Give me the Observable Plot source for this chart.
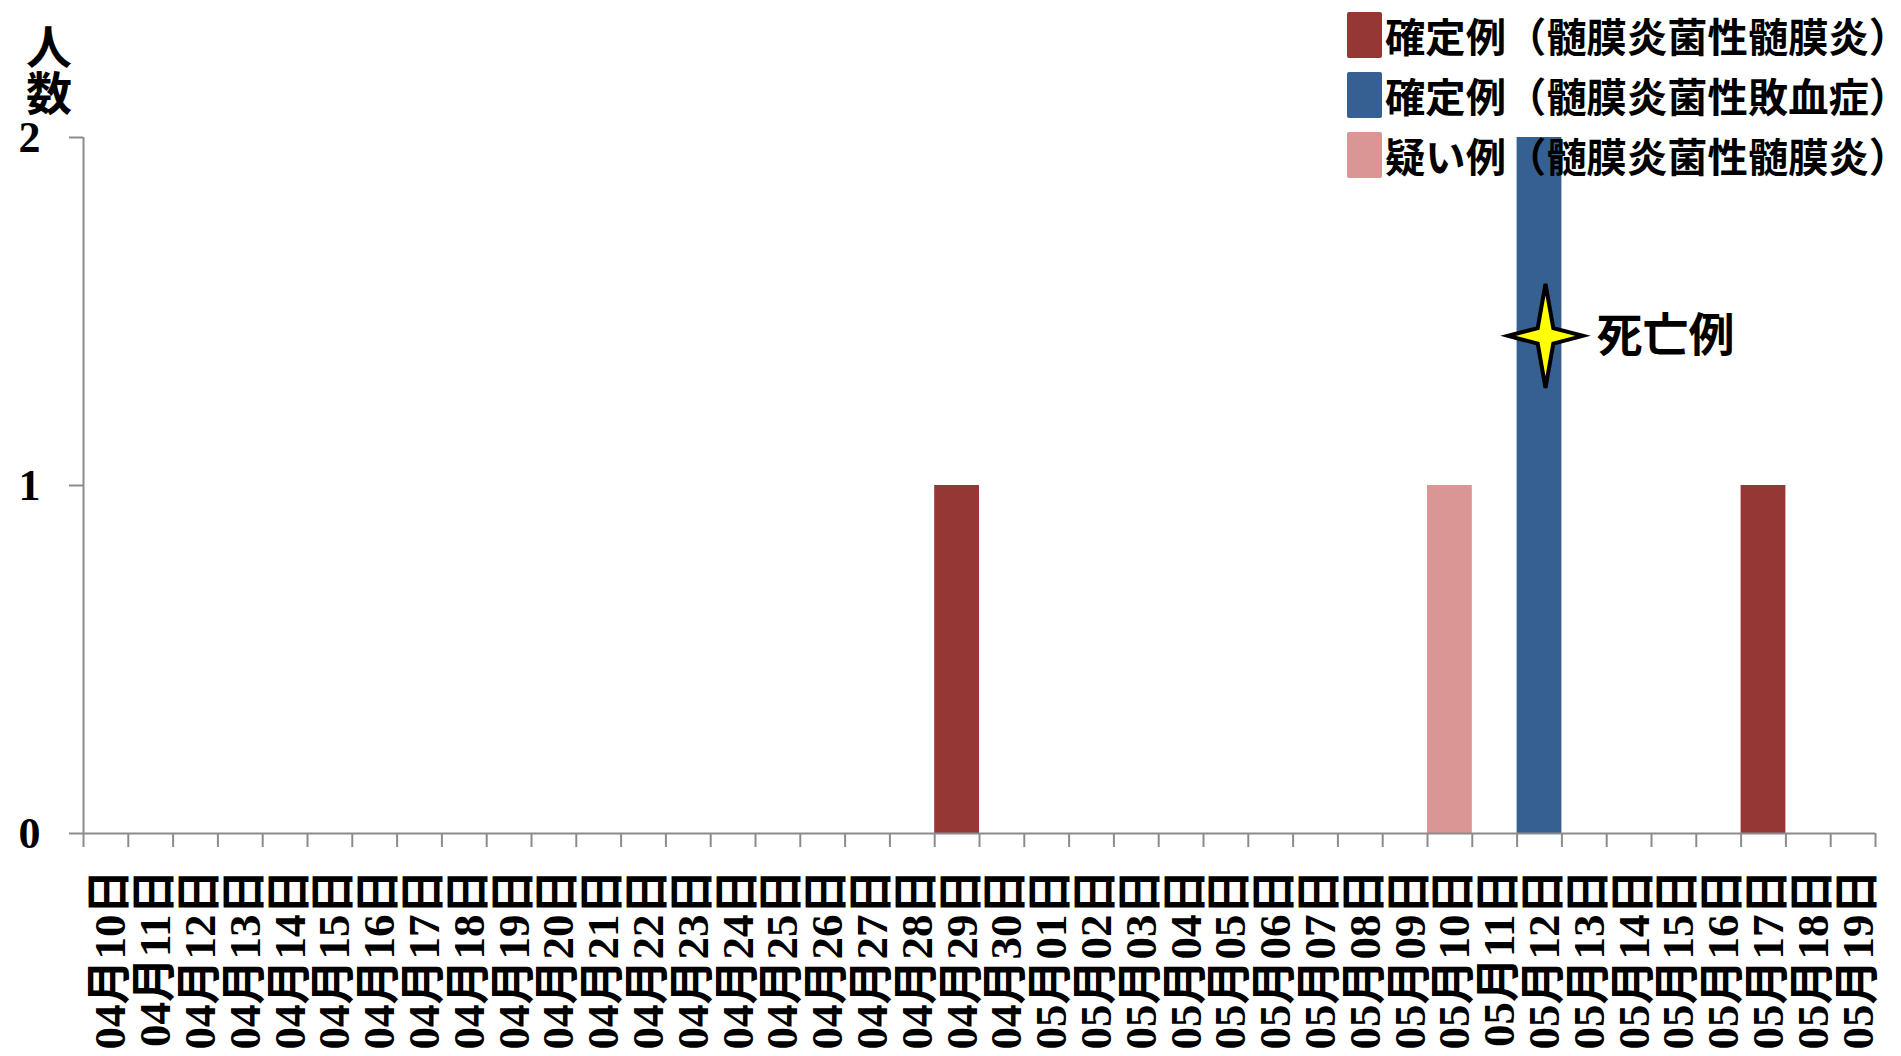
<!DOCTYPE html>
<html>
<head>
<meta charset="utf-8">
<script src="https://cdn.jsdelivr.net/npm/d3@7"></script>
<script src="https://cdn.jsdelivr.net/npm/@observablehq/plot@0.6"></script>
<style>
  html, body { margin: 0; padding: 0; background: #fff; }
  #wrap { position: relative; width: 1901px; height: 1056px; overflow: hidden; }
  #ylabel { position: absolute; left: 26px; top: 24px; writing-mode: vertical-rl; font-family: "Noto Sans CJK JP", sans-serif; font-weight: 700; font-size: 46px; line-height: 46px; color: #000; }
  #legend { position: absolute; left: 1347px; top: 12px; font-family: "Noto Sans CJK JP", sans-serif; font-weight: 700; font-size: 41px; color: #000; }
  .row { display: flex; align-items: center; height: 46px; margin-bottom: 14px; }
  .sw { width: 35px; height: 46px; border-radius: 2px; margin-right: 3px; flex: none; }
  .lt { line-height: 46px; white-space: nowrap; }
  .close { font-feature-settings: "halt"; }
</style>
</head>
<body>
<div id="wrap">
  <div id="chart"></div>
  <div id="ylabel">人数</div>
  <div id="legend"></div>
</div>
<script>
const dates = [
  "04月10日","04月11日","04月12日","04月13日","04月14日","04月15日","04月16日","04月17日",
  "04月18日","04月19日","04月20日","04月21日","04月22日","04月23日","04月24日","04月25日",
  "04月26日","04月27日","04月28日","04月29日","04月30日","05月01日","05月02日","05月03日",
  "05月04日","05月05日","05月06日","05月07日","05月08日","05月09日","05月10日","05月11日",
  "05月12日","05月13日","05月14日","05月15日","05月16日","05月17日","05月18日","05月19日"
];
const seriesNames = [
  "確定例（髄膜炎菌性髄膜炎）",
  "確定例（髄膜炎菌性敗血症）",
  "疑い例（髄膜炎菌性髄膜炎）"
];
const seriesColors = ["#953735", "#376092", "#D99694"];
const caseDates = ["04月29日", "05月10日", "05月12日", "05月17日"];
const caseSeries = [seriesNames[0], seriesNames[2], seriesNames[1], seriesNames[0]];
const caseCounts = [1, 1, 2, 1];
const yTicks = [0, 1, 2];
const deathDates = ["05月12日"];
const deathMarkerLevel = [1.43];
const deathLabel = "死亡例";

const cases = caseDates.map((d, i) => ({date: d, series: caseSeries[i], count: caseCounts[i]}));
const deaths = deathDates.map((d, i) => ({date: d, level: deathMarkerLevel[i]}));
const idx = d => dates.indexOf(d);

const star = {
  draw(context, size) {
    const r = Math.sqrt(size / Math.PI);
    const h = r * 0.72, w = r * 0.15;
    context.moveTo(0, -r);
    context.lineTo(w, -w);
    context.lineTo(h, 0);
    context.lineTo(w, w);
    context.lineTo(0, r);
    context.lineTo(-w, w);
    context.lineTo(-h, 0);
    context.lineTo(-w, -w);
    context.closePath();
  }
};

const gray = "#8c8c8c";
const serif = "'Liberation Serif', 'Times New Roman', 'Noto Sans CJK JP', serif";

const chart = Plot.plot({
  width: 1901,
  height: 1056,
  marginLeft: 83,
  marginRight: 26,
  marginTop: 137,
  marginBottom: 223,
  x: {domain: [0, dates.length], axis: null},
  y: {domain: [0, 2], axis: null},
  color: {domain: seriesNames, range: seriesColors},
  style: {background: "white"},
  marks: [
    Plot.rectY(cases, {x1: d => idx(d.date), x2: d => idx(d.date) + 1, y: "count", fill: "series"}),
    Plot.ruleX([0], {stroke: gray, strokeWidth: 2}),
    Plot.ruleY([0], {stroke: gray, strokeWidth: 2}),
    Plot.axisY({ticks: yTicks, tickSize: 14, tickPadding: 29, tickFormat: d => String(d), stroke: gray, strokeWidth: 2, fill: "#000", fontSize: 44, fontWeight: "bold", fontFamily: serif, label: null}),
    Plot.axisX({ticks: d3.range(dates.length + 1), tickSize: 14, tickFormat: () => "", stroke: gray, strokeWidth: 2, label: null}),
    Plot.axisX({ticks: d3.range(dates.length).map(i => i + 0.5), tickSize: 0, tickPadding: 36, tickRotate: -90, textAnchor: "end", lineAnchor: "middle", dx: 5, tickFormat: v => dates[Math.floor(v)], fill: "#000", fontSize: 45, fontWeight: "bold", fontFamily: serif, label: null}),
    Plot.dot(deaths, {x: d => idx(d.date) + 0.5, y: "level", symbol: star, r: 52, fill: "#ffff00", stroke: "#000", strokeWidth: 4, strokeLinejoin: "miter", dx: 6}),
    Plot.text(deaths, {x: d => idx(d.date) + 0.5, y: "level", text: () => deathLabel, dx: 57, textAnchor: "start", fontSize: 46, fontWeight: "bold", fontFamily: "'Noto Sans CJK JP', sans-serif", fill: "#000"})
  ]
});
document.getElementById("chart").appendChild(chart);

const legend = document.getElementById("legend");
const spans = seriesNames.map((name, i) => {
  const row = document.createElement("div");
  row.className = "row";
  const sw = document.createElement("div");
  sw.className = "sw";
  sw.style.background = seriesColors[i];
  const t = document.createElement("span");
  t.className = "lt";
  const head = document.createElement("span");
  head.textContent = name.slice(0, -1);
  const tail = document.createElement("span");
  tail.className = "close";
  tail.textContent = name.slice(-1);
  t.appendChild(head);
  t.appendChild(tail);
  row.appendChild(sw);
  row.appendChild(t);
  legend.appendChild(row);
  return t;
});
// fit the legend text to the reference's text span (~506px)
const w0 = Math.max(...spans.map(s => s.getBoundingClientRect().width));
const ls = Math.max(0, (504 - w0) / 12);
spans.forEach(s => { s.style.letterSpacing = ls + "px"; });
const w1 = Math.max(...spans.map(s => s.getBoundingClientRect().width));
if (w1 > 510) legend.style.fontSize = (41 * 504 / w1) + "px";
</script>
</body>
</html>
